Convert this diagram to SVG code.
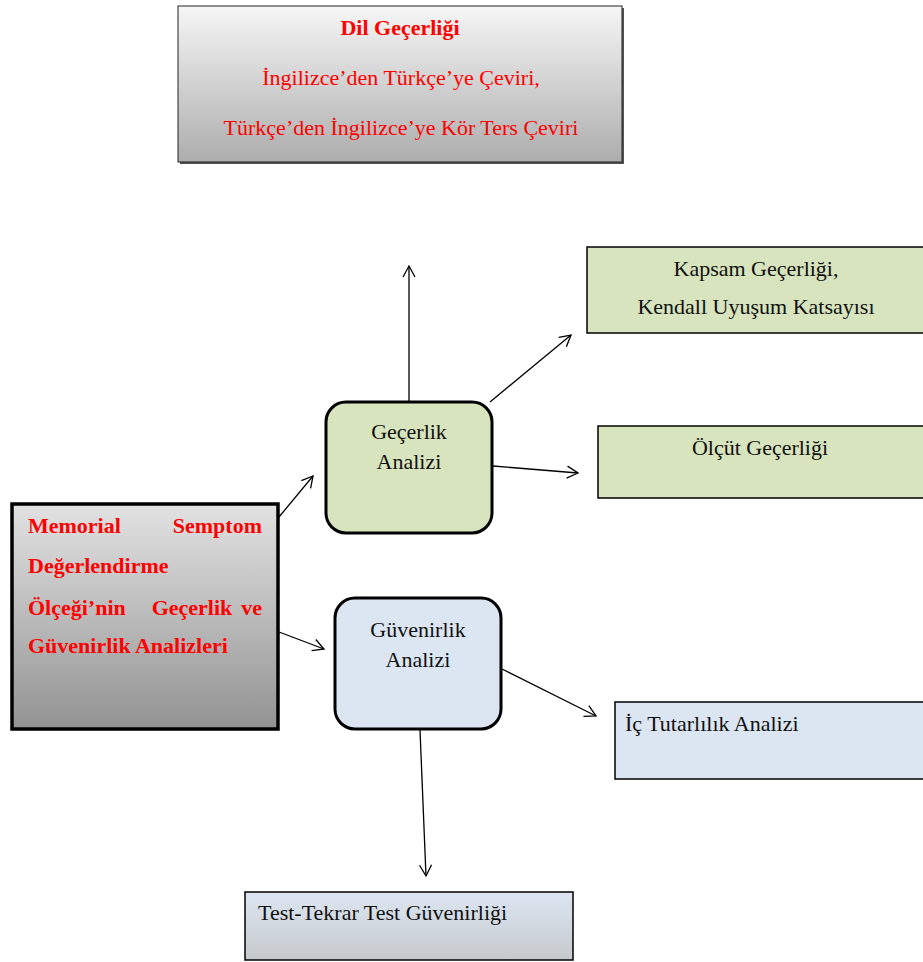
<svg xmlns="http://www.w3.org/2000/svg" width="923" height="962" viewBox="0 0 923 962">
<style>
.t{font-family:"Liberation Serif","Times New Roman",serif;font-size:22px;fill:#111}
.r{font-family:"Liberation Serif","Times New Roman",serif;font-size:22px;fill:#ff0000}
.b{font-weight:bold}
.c{text-anchor:middle}
.e{text-anchor:end}
.edge{stroke:#000;stroke-width:1.3;fill:none;marker-end:url(#ah)}
.green{fill:#d7e4bd;stroke:#000;stroke-width:1.5}
.blue{fill:#dce6f2;stroke:#000;stroke-width:1.5}
</style>
<defs>
<marker id="ah" markerUnits="userSpaceOnUse" markerWidth="16" markerHeight="16" refX="13" refY="8" orient="auto">
<path d="M2,2 L13,8 L2,14" fill="none" stroke="#000" stroke-width="1.3"/>
</marker>
<linearGradient id="gtop" x1="0" y1="0" x2="0" y2="1">
<stop offset="0" stop-color="#f6f6f6"/>
<stop offset="1" stop-color="#adadad"/>
</linearGradient>
<linearGradient id="gmem" x1="0" y1="0" x2="0" y2="1">
<stop offset="0" stop-color="#e2e2e2"/>
<stop offset="1" stop-color="#939393"/>
</linearGradient>
<linearGradient id="gtest" x1="0" y1="0" x2="0" y2="1">
<stop offset="0" stop-color="#dce6f2"/>
<stop offset="1" stop-color="#c6c9cc"/>
</linearGradient>
</defs>
<rect width="923" height="962" fill="#fff"/>

<g id="dil">
<rect x="180" y="8" width="444" height="156" fill="#555"/>
<rect x="178" y="6" width="444" height="156" fill="url(#gtop)" stroke="#222" stroke-width="1"/>
<text class="r b c" x="400" y="35" font-size="20.5">Dil Geçerliği</text>
<text class="r c" x="401" y="85">İngilizce’den Türkçe’ye Çeviri,</text>
<text class="r c" x="401" y="135">Türkçe’den İngilizce’ye Kör Ters Çeviri</text>
</g>

<g id="kapsam">
<rect class="green" x="587" y="247" width="340" height="86"/>
<text class="t c" x="756" y="276">Kapsam Geçerliği,</text>
<text class="t c" x="756" y="314">Kendall Uyuşum Katsayısı</text>
</g>

<g id="olcut">
<rect class="green" x="598" y="426" width="330" height="72"/>
<text class="t c" x="760" y="455">Ölçüt Geçerliği</text>
</g>

<g id="gecerlik">
<rect x="326" y="402" width="166" height="131" rx="20" ry="20" fill="#d7e4bd" stroke="#000" stroke-width="3"/>
<text class="t c" x="409" y="439">Geçerlik</text>
<text class="t c" x="409" y="469">Analizi</text>
</g>

<g id="memorial">
<rect x="12" y="504" width="266" height="225" fill="url(#gmem)" stroke="#000" stroke-width="3.5"/>
<text class="r b" x="28" y="533">Memorial</text>
<text class="r b e" x="262" y="533">Semptom</text>
<text class="r b" x="28" y="573">Değerlendirme</text>
<text class="r b" x="28" y="615">Ölçeği’nin</text>
<text class="r b c" x="192" y="615">Geçerlik</text>
<text class="r b e" x="262" y="615">ve</text>
<text class="r b" x="28" y="653">Güvenirlik Analizleri</text>
</g>

<g id="guvenirlik">
<rect x="335" y="598" width="166" height="131" rx="20" ry="20" fill="#dce6f2" stroke="#000" stroke-width="3"/>
<text class="t c" x="418" y="637">Güvenirlik</text>
<text class="t c" x="418" y="667">Analizi</text>
</g>

<g id="ic">
<rect class="blue" x="615" y="702" width="312" height="77"/>
<text class="t" x="625" y="731">İç Tutarlılık Analizi</text>
</g>

<g id="test">
<rect x="245" y="892" width="328" height="68" fill="url(#gtest)" stroke="#000" stroke-width="1.5"/>
<text class="t" x="258" y="920">Test-Tekrar Test Güvenirliği</text>
</g>

<g id="connectors">
<line class="edge" x1="409" y1="402" x2="409" y2="266"/>
<line class="edge" x1="490" y1="402" x2="571" y2="335"/>
<line class="edge" x1="493" y1="466" x2="578" y2="473"/>
<line class="edge" x1="279" y1="517" x2="313" y2="476"/>
<line class="edge" x1="279" y1="632" x2="324" y2="649"/>
<line class="edge" x1="502" y1="669" x2="596" y2="716"/>
<line class="edge" x1="420" y1="730" x2="426" y2="876"/>
</g>
</svg>
